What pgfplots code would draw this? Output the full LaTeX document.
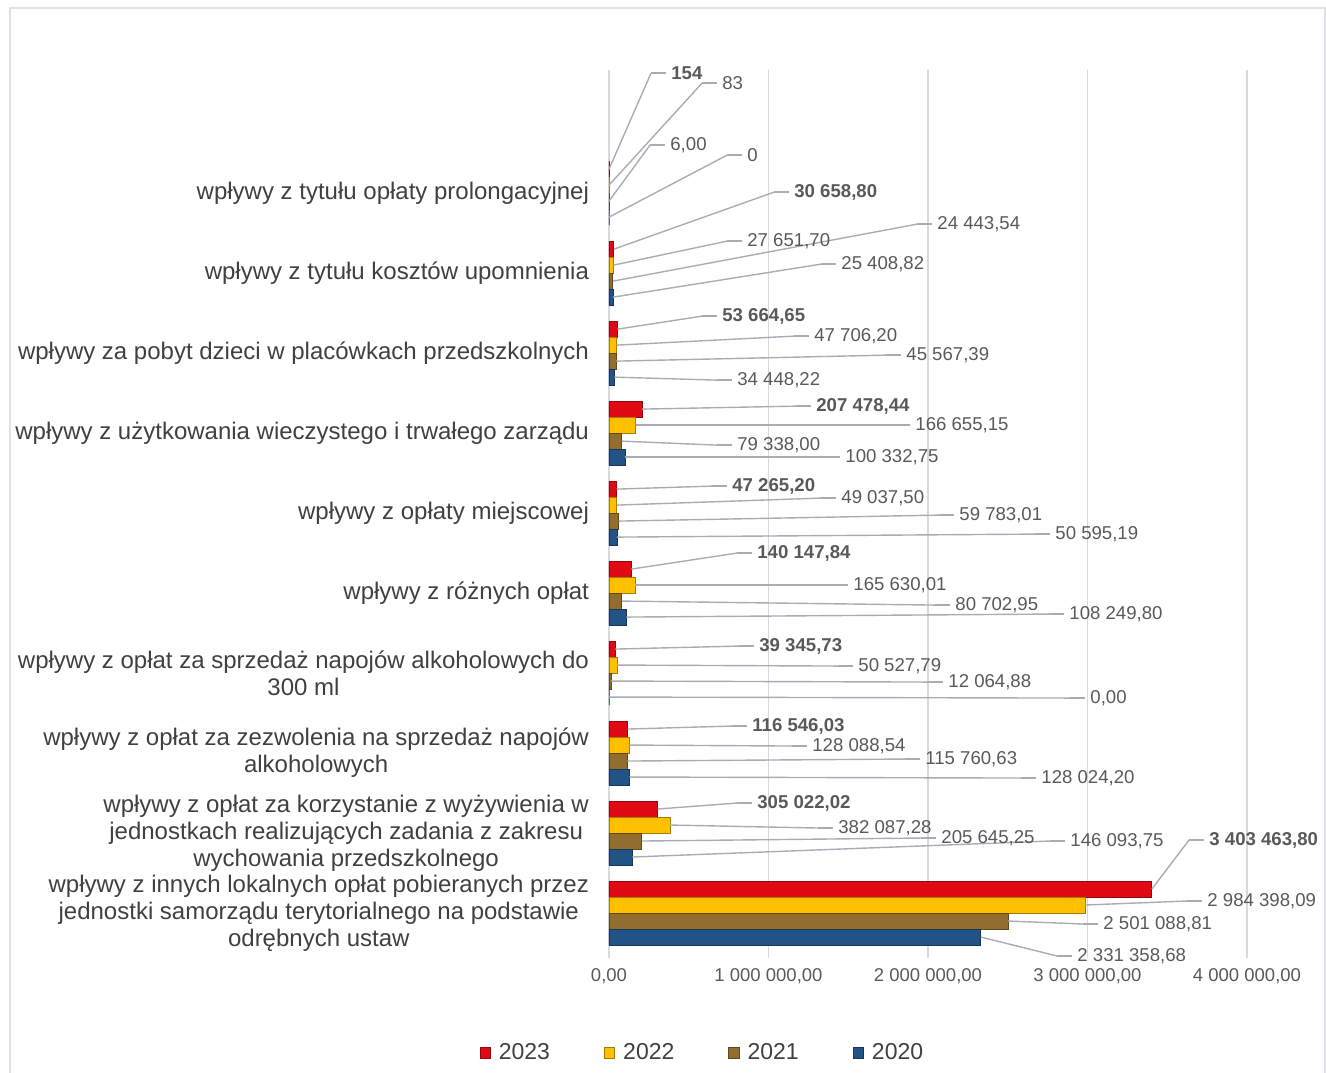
\documentclass[border=0pt]{standalone}
\usepackage{fontspec}
\setmainfont{Liberation Sans}
\usepackage{pgfplots}
\usepackage{pgfplotstable}
\pgfplotsset{compat=1.18}

\definecolor{c23}{RGB}{225,10,20}
\definecolor{c22}{RGB}{255,192,0}
\definecolor{c21}{RGB}{145,110,45}
\definecolor{c20}{RGB}{34,82,134}
\definecolor{gridgray}{RGB}{214,217,224}
\definecolor{leadgray}{RGB}{170,172,180}
\definecolor{labgray}{RGB}{89,89,89}
\definecolor{catgray}{RGB}{64,64,64}

% c;val;lx;ly;txt  (c = category index, lx/ly = label position)
\pgfplotstableread[col sep=semicolon]{
c;val;lx;ly;txt
9;154;388740;10.5;154
8;30658.80;1159950;9.0125;30 658,80
7;53664.65;708510;7.4625;53 664,65
6;207478.44;1297890;6.3375;207 478,44
5;47265.20;771210;5.3375;47 265,20
4;140147.84;927960;4.5;140 147,84
3;39345.73;940500;3.3375;39 345,73
2;116546.03;896610;2.3375;116 546,03
1;305022.02;927960;1.375;305 022,02
0;3403463.80;3762000;0.9125;3 403 463,80
}\tA
\pgfplotstableread[col sep=semicolon]{
c;val;lx;ly;txt
9;83;708510;10.375;83
8;27651.70;865260;8.4;27 651,70
7;47706.20;1285350;7.2125;47 706,20
6;166655.15;1918620;6.1;166 655,15
5;49037.50;1454640;5.1875;49 037,50
4;165630.01;1529880;4.1;165 630,01
3;50527.79;1561230;3.0875;50 527,79
2;128088.54;1272810;2.0875;128 088,54
1;382087.28;1435830;1.0625;382 087,28
0;2984398.09;3749460;0.15;2 984 398,09
}\tB
\pgfplotstableread[col sep=semicolon]{
c;val;lx;ly;txt
9;6;382470;9.6;6,00
8;24443.54;2056560;8.6125;24 443,54
7;45567.39;1862190;6.975;45 567,39
6;79338.00;802560;5.85;79 338,00
5;59783.01;2194500;4.975;59 783,01
4;80702.95;2169420;3.85;80 702,95
3;12064.88;2125530;2.8875;12 064,88
2;115760.63;1981320;1.925;115 760,63
1;205645.25;2081640;0.9375;205 645,25
0;2501088.81;3097380;-0.1375;2 501 088,81
}\tC
\pgfplotstableread[col sep=semicolon]{
c;val;lx;ly;txt
9;0;865260;9.475;0
8;25408.82;1454640;8.1125;25 408,82
7;34448.22;802560;6.6625;34 448,22
6;100332.75;1479720;5.7;100 332,75
5;50595.19;2796420;4.7375;50 595,19
4;108249.80;2884200;3.7375;108 249,80
3;0;3015870;2.6875;0,00
2;128024.20;2708640;1.6875;128 024,20
1;146093.75;2890470;0.9;146 093,75
0;2331358.68;2934360;-0.5375;2 331 358,68
}\tD

\pgfplotsset{
  sq/.style={legend image code/.code={\draw[##1] (0pt,-2.6pt) rectangle (5.2pt,2.6pt); \path (7.2pt,0pt);}},
  leader/.style={color=leadgray, line width=0.7pt, forget plot},
  yr/.style={xbar, bar width=0.2, fill=#1, draw=#1!65!black, line width=0.4pt, sq},
}

% leader lines and value labels for one series: #1 table, #2 bar shift, #3 label style
\newcommand{\labels}[3]{%
  \addplot[leader, quiver={u=\thisrow{lx}-125400-\thisrow{val}, v=\thisrow{ly}-\thisrow{c}-(#2)}]
    table[x=val, y expr=\thisrow{c}+(#2)] {#1};
  \addplot[leader, quiver={u=94050, v=0}]
    table[x expr=\thisrow{lx}-125400, y=ly] {#1};
  \addplot[draw=none, forget plot, nodes near coords, point meta=explicit symbolic,
    nodes near coords align={anchor=west},
    every node near coord/.append style={inner sep=0pt, text=labgray, font=\fontsize{9.3}{11}\selectfont #3}]
    table[x=lx, y=ly, meta=txt] {#1};
}

\begin{document}
\begin{tikzpicture}
\path[use as bounding box] (-304.5pt,-57pt) rectangle (358.5pt,479pt);
\draw[gridgray!80, line width=0.8pt] (-299.5pt,-70pt) -- (-299.5pt,475pt) -- (358pt,475pt) -- (358pt,-70pt);
\begin{axis}[
  at={(0,0)}, anchor=south west,
  scale only axis,
  width=319pt, height=444pt,
  xmin=0, xmax=4000000,
  ymin=-0.5625, ymax=10.54,
  clip=false,
  axis line style={draw=none},
  tick style={draw=none},
  xmajorgrids=true, ymajorgrids=false,
  major grid style={gridgray, line width=0.8pt},
  xtick={0,1000000,2000000,3000000,4000000},
  xticklabels={{0,00},{1 000 000,00},{2 000 000,00},{3 000 000,00},{4 000 000,00}},
  xticklabel style={font=\fontsize{9.25}{11}\selectfont, text=labgray, yshift=-2pt},
  scaled x ticks=false,
  ytick={0,...,9},
  yticklabels={
    {wpływy z innych lokalnych opłat pobieranych przez\\jednostki samorządu terytorialnego na podstawie\\odrębnych ustaw},
    {wpływy z opłat za korzystanie z wyżywienia w\\jednostkach realizujących zadania z zakresu\\wychowania przedszkolnego},
    {wpływy z opłat za zezwolenia na sprzedaż napojów\\alkoholowych},
    {wpływy z opłat za sprzedaż napojów alkoholowych do\\300 ml},
    {wpływy z różnych opłat},
    {wpływy z opłaty miejscowej},
    {wpływy z użytkowania wieczystego i trwałego zarządu},
    {wpływy za pobyt dzieci w placówkach przedszkolnych},
    {wpływy z tytułu kosztów upomnienia},
    {wpływy z tytułu opłaty prolongacyjnej}},
  yticklabel style={align=center, font=\fontsize{12}{13.5}\selectfont, text=catgray, xshift=-6.5pt},
  legend columns=4,
  legend style={at={(0.148,-0.107)}, anchor=center, draw=none, fill=none,
    font=\fontsize{11.5}{13}\selectfont, text=catgray,
    /tikz/every even column/.append style={column sep=25pt}},
]
\addplot[yr=c23, bar shift=0.3] table[x=val, y=c] {\tA};
\addlegendentry{2023}
\addplot[yr=c22, bar shift=0.1] table[x=val, y=c] {\tB};
\addlegendentry{2022}
\addplot[yr=c21, bar shift=-0.1] table[x=val, y=c] {\tC};
\addlegendentry{2021}
\addplot[yr=c20, bar shift=-0.3] table[x=val, y=c] {\tD};
\addlegendentry{2020}

\labels{\tA}{0.3}{\bfseries}
\labels{\tB}{0.1}{}
\labels{\tC}{-0.1}{}
\labels{\tD}{-0.3}{}
\end{axis}
\end{tikzpicture}
\end{document}
